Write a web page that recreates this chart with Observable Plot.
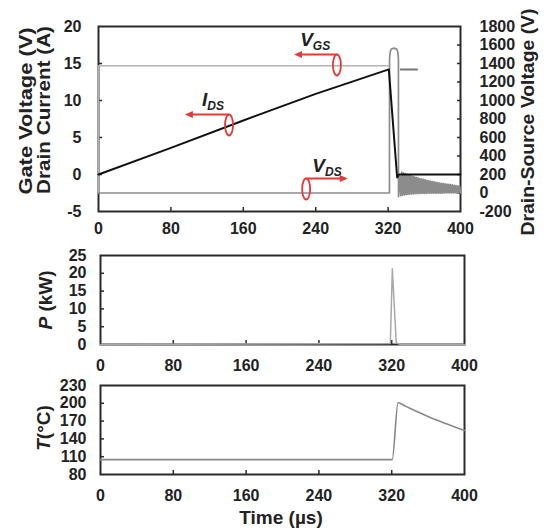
<!DOCTYPE html>
<html><head><meta charset="utf-8">
<script src="https://cdn.jsdelivr.net/npm/d3@7"></script>
<script src="https://cdn.jsdelivr.net/npm/@observablehq/plot@0.6"></script>
<style>
body{margin:0;background:#fff;}
#root{position:relative;width:552px;height:531px;}
</style></head><body><div id="root"></div>
<script>
// ---------- axis tick values ----------
const xTicks = [0, 80, 160, 240, 320, 400];
const leftTicks = [-5, 0, 5, 10, 15, 20];
const rightTicks = [-200, 0, 200, 400, 600, 800, 1000, 1200, 1400, 1600, 1800];
const pTicks = [0, 5, 10, 15, 20, 25];
const tTicks = [80, 110, 140, 170, 200, 230];

// ---------- top panel series ----------
// drain current (A)
const idsT = [0, 80, 160, 240, 320.8, 330, 332, 400];
const idsV = [0, 3.6, 7.3, 10.9, 14.2, -0.4, 0, 0];
// gate voltage (V)
const vgsT = [0, 0, 320];
const vgsV = [-2.5, 14.7, 14.7];
const vgsTailT = [334, 352];
const vgsTailV = [14.2, 14.2];
// drain-source voltage (V, right axis)
const vdsT = [0, 321.5, 321.6, 322.3, 323.5, 326.5, 329.5, 330.7, 331.4, 331.5,
  333, 334, 335, 336, 337, 338, 339, 340, 341, 342, 343, 344, 345, 346, 347, 348, 349, 350,
  351, 352, 353, 354, 355, 356, 357, 358, 359, 360, 361, 362, 363, 364, 365, 366, 367, 368,
  369, 370, 371, 372, 373, 374, 375, 376, 377, 378, 379, 380, 381, 382, 383, 384, 385, 386,
  387, 388, 389, 390, 391, 392, 393, 394, 395, 396, 397, 398, 399, 400];
const vdsV = [0, 0, 1450, 1525, 1555, 1566, 1555, 1525, 1450, -40,
  180, -30, 225, -25, 217, -20, 209, -18, 202, -15, 195, -12, 188, -10, 181, -9, 175, -8,
  169, -7, 163, -6, 157, -5, 152, -5, 147, -4, 142, -4, 137, -3, 132, -3, 128, -2,
  124, -2, 120, -2, 116, -1, 112, -1, 108, -1, 105, -1, 102, 0, 99, 0, 96, 0,
  93, 0, 90, 0, 87, 0, 84, 0, 81, 0, 78, 0, 75, 0];

// ---------- middle panel: power (kW) ----------
const pT = [0, 318.5, 320.7, 325, 330, 400];
const pV = [0, 0.3, 21.3, 0.4, 0, 0];

// ---------- bottom panel: temperature (°C) ----------
const tempT = [0, 320.5, 327, 335, 343, 352, 361, 370, 380, 390, 400];
const tempV = [105, 105, 201, 195.2, 189.5, 183.1, 177, 171.3, 165.5, 159.8, 154.3];

// ---------- annotations (top panel, data units) ----------
const annMain = ["I", "V", "V"];
const annSub = ["DS", "GS", "DS"];
const annT = [127, 240, 253];
const annV = [9.86, 17.97, 0.95];
const loopT = [144.8, 264, 230];
const loopV = [6.62, 14.73, -2.03];
const arrowEndT = [96, 216.6, 276];

const FONT = "'Liberation Sans', Arial, Helvetica, sans-serif";
const baseStyle = {fontFamily: FONT, fontWeight: "bold", fontSize: "16px", color: "#222", background: "transparent", overflow: "visible"};
const root = document.getElementById("root");
const toLeft = v => (v - 200) / 80;
const zip = (a, b) => a.map((t, i) => ({t, v: b[i]}));
const plain = d => String(d);

function place(svg, top) {
  svg.style.position = "absolute";
  svg.style.left = "0px";
  svg.style.top = top + "px";
  root.appendChild(svg);
  return svg;
}
const tickOnly = (o) => ({...o, tickFormat: () => "", label: null, stroke: "#2a2a2a", strokeWidth: 1.5});
const lab = (o) => ({tickFormat: plain, ...o, tickSize: 0, label: null, fontSize: 16, fontWeight: "bold", fill: "#222"});

// ---------- top panel ----------
const c1 = place(Plot.plot({
  width: 552, height: 245, marginLeft: 98, marginRight: 92, marginTop: 26, marginBottom: 34,
  style: baseStyle,
  x: {domain: [0, 400], label: null},
  y: {domain: [-5, 20], label: null},
  marks: [
    Plot.frame({stroke: "#2a2a2a", strokeWidth: 2}),
    Plot.axisX(tickOnly({ticks: xTicks.slice(1, -1), tickSize: -4})),
    Plot.axisX(lab({ticks: xTicks, tickPadding: 11})),
    Plot.axisY(tickOnly({ticks: leftTicks.slice(1, -1), tickSize: -4})),
    Plot.axisY(lab({ticks: leftTicks, tickPadding: 17})),
    Plot.axisY(tickOnly({anchor: "right", ticks: rightTicks.slice(1, -1).map(toLeft), tickSize: -4})),
    Plot.axisY(lab({anchor: "right", ticks: rightTicks.map(toLeft), tickPadding: 19, tickFormat: d => String(Math.round(d * 80 + 200))})),
    Plot.line(zip(vgsT, vgsV), {x: "t", y: "v", stroke: "#b4b4b4", strokeWidth: 1.5}),
    Plot.line(zip(vgsTailT, vgsTailV), {x: "t", y: "v", stroke: "#777", strokeWidth: 2}),
    Plot.line(zip(vdsT, vdsV), {x: "t", y: d => toLeft(d.v), stroke: "#8c8c8c", strokeWidth: 1.7}),
    Plot.line(zip(idsT, idsV), {x: "t", y: "v", stroke: "#111", strokeWidth: 2})
  ]
}), 0);

// annotations via the chart's scales
{
  const sx = c1.scale("x"), sy = c1.scale("y");
  const g = d3.select(c1).append("g");
  const red = "#e53935";
  annMain.forEach((m, i) => {
    const x = sx.apply(annT[i]), y = sy.apply(annV[i]);
    const t = g.append("text").attr("x", x).attr("y", y + 5).attr("text-anchor", "middle")
      .attr("font-family", FONT).attr("font-weight", "bold").attr("font-style", "italic").attr("fill", "#222");
    t.append("tspan").attr("font-size", 19).text(m);
    t.append("tspan").attr("font-size", 12).attr("dy", 4).text(annSub[i]);
    const lx = sx.apply(loopT[i]), ly = sy.apply(loopV[i]);
    const ry = 10.5, rx = 4;
    const ay = ly - ry;
    const ex = sx.apply(arrowEndT[i]);
    const dir = ex < lx ? -1 : 1;
    g.append("ellipse").attr("cx", lx).attr("cy", ly).attr("rx", rx).attr("ry", ry)
      .attr("fill", "none").attr("stroke", red).attr("stroke-width", 1.8);
    g.append("line").attr("x1", lx).attr("y1", ay).attr("x2", ex - dir * 6).attr("y2", ay)
      .attr("stroke", red).attr("stroke-width", 1.8);
    g.append("path").attr("d", `M${ex},${ay}L${ex - dir * 8},${ay - 3.5}L${ex - dir * 8},${ay + 3.5}Z`).attr("fill", red);
  });
}

// ---------- middle panel ----------
place(Plot.plot({
  width: 552, height: 130, marginLeft: 100, marginRight: 88, marginTop: 10, marginBottom: 31,
  style: baseStyle,
  x: {domain: [0, 400], label: null},
  y: {domain: [0, 25], label: null},
  marks: [
    Plot.frame({stroke: "#2a2a2a", strokeWidth: 2}),
    Plot.axisX(tickOnly({ticks: xTicks.slice(1, -1), tickSize: -4})),
    Plot.axisX(lab({ticks: xTicks, tickPadding: 15})),
    Plot.axisY(tickOnly({ticks: pTicks.slice(1, -1), tickSize: -4})),
    Plot.axisY(lab({ticks: pTicks, tickPadding: 14})),
    Plot.line(zip(pT, pV), {x: "t", y: "v", stroke: "#a8a8a8", strokeWidth: 1.5})
  ]
}), 245);

// ---------- bottom panel ----------
place(Plot.plot({
  width: 552, height: 156, marginLeft: 100, marginRight: 88, marginTop: 10, marginBottom: 57,
  style: baseStyle,
  x: {domain: [0, 400], label: null},
  y: {domain: [80, 230], label: null},
  marks: [
    Plot.frame({stroke: "#2a2a2a", strokeWidth: 2}),
    Plot.axisX(tickOnly({ticks: xTicks.slice(1, -1), tickSize: -4})),
    Plot.axisX(lab({ticks: xTicks, tickPadding: 15})),
    Plot.axisY(tickOnly({ticks: tTicks.slice(1, -1), tickSize: -4})),
    Plot.axisY(lab({ticks: tTicks, tickPadding: 14})),
    Plot.line(zip(tempT, tempV), {x: "t", y: "v", stroke: "#888", strokeWidth: 1.6, curve: "monotone-x"})
  ]
}), 375);

// ---------- axis titles ----------
{
  const svg = d3.create("svg").attr("width", 552).attr("height", 531)
    .style("position", "absolute").style("left", "0px").style("top", "0px").style("pointer-events", "none");
  const title = (x, y, rot, size, len) => {
    const t = svg.append("text").attr("transform", `translate(${x},${y}) rotate(${rot})`)
      .attr("text-anchor", "middle").attr("font-family", FONT).attr("font-weight", "bold")
      .attr("font-size", size).attr("fill", "#222");
    if (len) t.attr("textLength", len).attr("lengthAdjust", "spacingAndGlyphs");
    return t;
  };
  title(32, 111, -90, 18, 167).text("Gate Voltage (V)");
  title(50, 110, -90, 18, 168).text("Drain Current (A)");
  title(534, 122, -90, 18, 227).text("Drain-Source Voltage (V)");
  const p = title(52, 300, -90, 19);
  p.append("tspan").attr("font-style", "italic").text("P");
  p.append("tspan").text(" (kW)");
  const tt = title(50, 428, -90, 19);
  tt.append("tspan").attr("font-style", "italic").text("T");
  tt.append("tspan").text("(°C)");
  title(281, 524, 0, 19).text("Time (µs)");
  root.appendChild(svg.node());
}
</script></body></html>
